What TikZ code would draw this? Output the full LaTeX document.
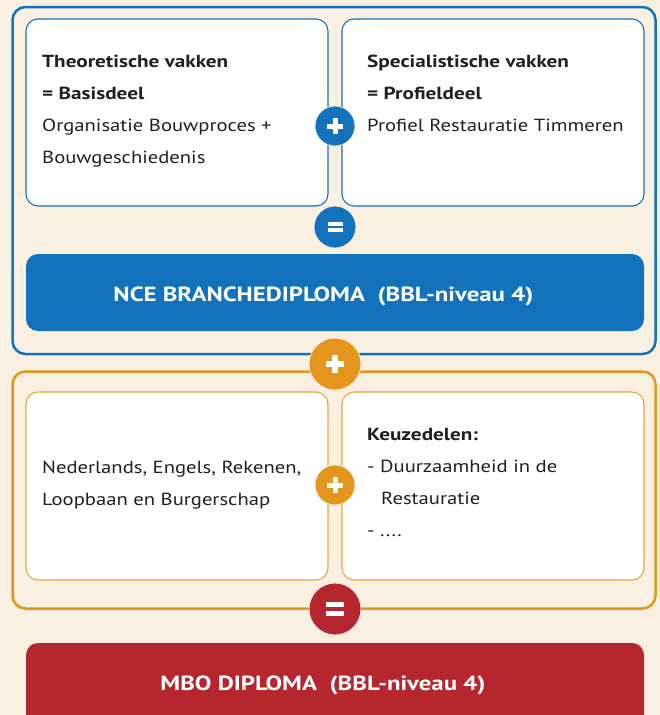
\documentclass[tikz,border=0pt]{standalone}
\usepackage{fontspec}
\setmainfont[FakeStretch=1.18,BoldFeatures={FakeStretch=1.21}]{PT Sans}
\definecolor{cblue}{HTML}{1272BC}
\definecolor{corange}{HTML}{E3961B}
\definecolor{cred}{HTML}{B5262E}
\definecolor{ccream}{HTML}{FAF0E1}
\definecolor{ctext}{HTML}{231F20}
\begin{document}
\begin{tikzpicture}[x=1pt,y=-1pt,
  frame/.style={draw, line width=2.5pt, rounded corners=13pt, minimum width=643pt, inner sep=0pt},
  ibox/.style={draw, fill=white, line width=1.1pt, rounded corners=12pt, minimum width=302pt, inner sep=0pt},
  bar/.style={rounded corners=12pt, minimum width=618pt, inner sep=0pt},
  op/.style={circle, draw=ccream, line width=0.8pt, inner sep=0pt},
  txt/.style={anchor=base west, inner sep=0pt, text=ctext, font=\fontsize{17.5}{20}\selectfont},
  btxt/.style={txt, font=\fontsize{17.5}{20}\selectfont\bfseries},
  bartxt/.style={anchor=base, inner sep=0pt, text=white, font=\fontsize{20.5}{24}\selectfont\bfseries},
  sign/.style={white, line width=#1, line cap=butt}
]
\fill[ccream] (0,0) rectangle (660,715);
\useasboundingbox (0,0) rectangle (660,715);
\clip (0,0) rectangle (660,715);

% upper group
\node[frame, draw=cblue, minimum height=347pt] (fb) at (334,180.5) {};
\node[ibox, draw=cblue, minimum height=187pt] (tl) at (177,112.5) {};
\node[ibox, draw=cblue, minimum height=187pt] (tr) at (493,112.5) {};
\node[bar, fill=cblue, minimum height=77pt] (nce) at (335,292.5) {};

% lower group
\node[frame, draw=corange, minimum height=237pt] (fo) at (334,490) {};
\node[ibox, draw=corange!85!white, minimum height=188pt] (bl) at (177,486) {};
\node[ibox, draw=corange!85!white, minimum height=188pt] (br) at (493,486) {};
\node[bar, fill=cred, minimum height=97pt] (mbo) at (335,691.5) {};

% operators
\node[op, fill=cblue, minimum size=40pt] (p1) at (335,126) {};
\node[op, fill=cblue, minimum size=42pt] (e1) at (335,227) {};
\node[op, fill=corange, minimum size=52pt] (p2) at (335,364) {};
\node[op, fill=corange, minimum size=40pt] (p3) at (335,485) {};
\node[op, fill=cred, minimum size=52pt] (e2) at (335,609) {};

\draw[sign=5pt] ([xshift=-8pt]p1.center) -- ([xshift=8pt]p1.center);
\draw[sign=5pt] ([yshift=-8pt]p1.center) -- ([yshift=8pt]p1.center);
\draw[sign=3.6pt] ([xshift=-7.5pt,yshift=-3pt]e1.center) -- ([xshift=7.5pt,yshift=-3pt]e1.center);
\draw[sign=3.6pt] ([xshift=-7.5pt,yshift=3pt]e1.center) -- ([xshift=7.5pt,yshift=3pt]e1.center);
\draw[sign=5.5pt] ([xshift=-9pt]p2.center) -- ([xshift=9pt]p2.center);
\draw[sign=5.5pt] ([yshift=-9pt]p2.center) -- ([yshift=9pt]p2.center);
\draw[sign=5pt] ([xshift=-8pt]p3.center) -- ([xshift=8pt]p3.center);
\draw[sign=5pt] ([yshift=-8pt]p3.center) -- ([yshift=8pt]p3.center);
\draw[sign=4.3pt] ([xshift=-9pt,yshift=-4.6pt]e2.center) -- ([xshift=9pt,yshift=-4.6pt]e2.center);
\draw[sign=4.3pt] ([xshift=-9pt,yshift=4.6pt]e2.center) -- ([xshift=9pt,yshift=4.6pt]e2.center);

% texts top-left
\node[btxt] (tl1) at (42,67) {Theoretische vakken};
\node[btxt] (tl2) at (42,99.5) {= Basisdeel};
\node[txt] (tl3) at (42,131.5) {Organisatie Bouwproces +};
\node[txt] (tl4) at (42,163.5) {Bouwgeschiedenis};
% texts top-right
\node[btxt] (tr1) at (367,67) {Specialistische vakken};
\node[btxt] (tr2) at (367,99.5) {= Profieldeel};
\node[txt] (tr3) at (367,131.5) {Profiel Restauratie Timmeren};
% bar texts
\node[bartxt] (ncet) at (323.5,301.5) {NCE BRANCHEDIPLOMA\ \ (BBL-niveau 4)};
\node[bartxt] (mbot) at (323,690.5) {MBO DIPLOMA\ \ (BBL-niveau 4)};
% texts bottom-left
\node[txt] (bl1) at (42,473) {Nederlands, Engels, Rekenen,};
\node[txt] (bl2) at (42,505) {Loopbaan en Burgerschap};
% texts bottom-right
\node[btxt] (br1) at (367,440.5) {Keuzedelen:};
\node[txt] (br2) at (367,472.5) {- Duurzaamheid in de};
\node[txt] (br3) at (381,504) {Restauratie};
\node[txt] (br4) at (367,536.5) {- ....};
\end{tikzpicture}
\end{document}
